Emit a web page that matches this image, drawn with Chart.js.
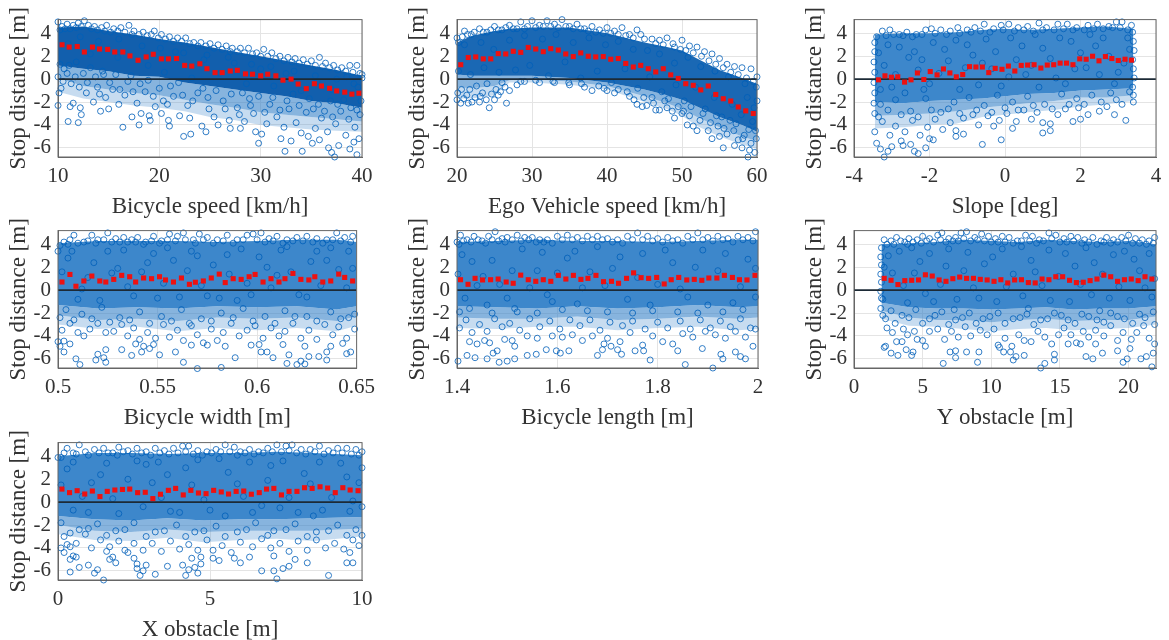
<!DOCTYPE html>
<html>
<head>
<meta charset="utf-8">
<title>Stop distance</title>
<script src="https://cdn.jsdelivr.net/npm/chart.js@4"></script>
<style>
body { margin: 0; background: #fff; overflow: hidden; }
canvas { position: absolute; filter: blur(0.6px); }
</style>
</head>
<body>
<script>
var yTicks = [-6, -4, -2, 0, 2, 4];

// tick labels
var xTicks1 = [10, 20, 30, 40];
var xTicks2 = [20, 30, 40, 50, 60];
var xTicks3 = [-4, -2, 0, 2, 4];
var xTicks4 = [0.5, 0.55, 0.6, 0.65];
var xTicks5 = [1.4, 1.6, 1.8, 2];
var xTicks6 = [0, 5, 10, 15, 20];
var xTicks7 = [0, 5, 10];

// red means
var meanX1 = [10.4,11.1,11.9,12.6,13.4,14.1,14.9,15.6,16.4,17.1,17.9,18.7,19.4,20.2,20.9,21.7,22.5,23.2,24,24.7,25.5,26.2,27,27.7,28.5,29.2,30,30.7,31.5,32.2,33,33.7,34.5,35.3,36,36.8,37.5,38.3,39,39.7];
var meanY1 = [3,2.8,2.85,2.37,2.8,2.63,2.6,2.37,2.37,2.03,1.65,1.94,2.17,1.77,1.77,1.8,1.2,1.14,1.34,.91,.57,.57,.71,.77,.46,.43,.29,.43,.29,-.09,0,-.43,-.83,-.4,-.6,-.8,-1.03,-1.14,-1.31,-1.23];
var meanX2 = [20.5,21.5,22.5,23.5,24.5,25.5,26.5,27.5,28.5,29.5,30.5,31.5,32.5,33.5,34.5,35.5,36.5,37.5,38.5,39.5,40.5,41.5,42.5,43.5,44.5,45.5,46.5,47.5,48.5,49.5,50.5,51.5,52.5,53.5,54.5,55.5,56.5,57.5,58.5,59.5];
var meanY2 = [1.26,1.89,1.94,1.77,1.77,2.23,2.2,2.43,2.34,2.77,2.63,2.4,2.66,2.54,2.2,1.97,2.29,2,1.94,1.97,1.74,1.8,1.37,1.06,1.2,.91,.63,.91,.37,.06,-.4,-.54,-.94,-.6,-1.34,-1.71,-1.91,-2.43,-2.77,-3];
var meanX3 = [-3.35,-3.18,-3.01,-2.84,-2.66,-2.49,-2.32,-2.15,-1.98,-1.8,-1.63,-1.46,-1.29,-1.12,-.94,-.77,-.6,-.43,-.26,-.08,.09,.26,.43,.6,.77,.95,1.12,1.29,1.46,1.63,1.8,1.98,2.15,2.32,2.49,2.66,2.83,3,3.18,3.35];
var meanY3 = [-.06,.29,.17,.2,-.26,-.06,.54,-.03,.66,.37,.89,.54,.2,.4,1.09,1.06,1.06,.57,.94,.86,1.14,.71,1.2,1.23,1.26,.97,1.23,1.26,1.4,1.4,1.26,1.77,1.74,2,1.6,1.97,1.8,1.63,1.74,1.66];
var meanX4 = [.502,.506,.509,.513,.517,.521,.524,.528,.532,.536,.539,.543,.547,.551,.554,.558,.562,.566,.569,.573,.577,.581,.584,.588,.592,.596,.599,.603,.607,.611,.614,.618,.622,.626,.629,.633,.637,.641,.644,.648];
var meanY4 = [.71,1.37,.34,.8,1.23,.8,.71,.94,1.29,1.17,.71,1.06,1,1.17,.89,.71,1.06,.51,.69,.8,1.06,1.4,.66,1,.94,1.17,1.37,.71,1,.71,1,1.46,.94,.89,1.17,.71,.8,1.4,1.11,.8];
var meanX5 = [1.407,1.422,1.436,1.451,1.467,1.482,1.498,1.512,1.527,1.542,1.557,1.572,1.587,1.602,1.617,1.632,1.647,1.661,1.677,1.692,1.708,1.722,1.738,1.752,1.767,1.782,1.798,1.813,1.827,1.842,1.858,1.873,1.888,1.902,1.918,1.933,1.949,1.963,1.978,1.994];
var meanY5 = [.91,.51,1.03,.89,.91,.97,.71,.6,1.31,.91,.77,.91,.77,1.29,.97,1.29,.94,1.03,1.29,.74,.77,.6,1.03,1.51,1.09,1.03,1.11,.54,.91,1.11,.89,.94,.86,1.06,1.06,1.29,1.11,.91,.89,1.29];
var meanX6 = [2.2,2.7,3.2,3.7,4.2,4.7,5.2,5.7,6.2,6.7,7.2,7.7,8.2,8.7,9.2,9.7,10.2,10.7,11.2,11.7,12.2,12.7,13.2,13.7,14.2,14.7,15.2,15.7,16.2,16.7,17.2,17.7,18.2,18.7,19.2,19.7,20.2,20.7,21.2,21.7];
var meanY6 = [1.03,.86,.49,.83,.86,.89,1.34,1.23,.89,.77,1,1.14,1.03,1.03,.94,.89,.77,.91,.63,.89,.91,.66,.63,.97,.91,1.17,1.17,.86,.66,.69,.83,.97,1.31,1.17,.77,.91,.97,.83,1.17,.97];
var meanX7 = [.13,.38,.63,.88,1.13,1.38,1.62,1.87,2.12,2.36,2.62,2.87,3.12,3.37,3.63,3.87,4.12,4.37,4.62,4.87,5.12,5.37,5.61,5.86,6.11,6.36,6.62,6.86,7.1,7.35,7.6,7.86,8.11,8.36,8.62,8.87,9.12,9.37,9.61,9.87];
var meanY7 = [1.14,.83,1,.71,.97,.49,.94,1.06,1.11,1.14,.83,.86,.31,.69,1.03,1.2,.63,1.03,.8,.74,1.03,.89,.71,.94,.97,.69,.83,1.14,1.2,.63,.94,.94,1.26,1.2,1.34,1.23,.83,1.26,1.06,1];

// the thousands of overlapping circles cannot be read one by one, so the overplotted mass
// is drawn as bands: top edge, lower edge of the thick part, thinner part, thinnest part
var bandX1 = [10,12.5,15,17.5,20,22.5,25,27.5,30,32.5,35,37.5,40];
var bandTop1 = [4.5,4.6,4.2,3.9,3.5,3.2,2.8,2.4,2,1.6,1.2,.8,.3];
var bandCore1 = [1.2,.9,.7,.3,.2,-.3,-.6,-.9,-1.2,-1.5,-1.9,-2.1,-2.5];
var bandMid1 = [.1,-.6,-.9,-1.2,-1.4,-1.8,-2.2,-2.5,-2.9,-3.1,-3.3,-3.5,-3.7];
var bandLow1 = [-1.1,-1.7,-2,-2.3,-2.5,-2.8,-3.3,-3.6,-4,-4.2,-4.4,-4.5,-4.6];
var bandX2 = [20,22,25,27,30,35,40,45,48,50,52,55,58,60];
var bandTop2 = [3.2,3.8,4.2,4.4,4.5,4.5,4,3.2,2.8,2.5,1.8,.8,.1,-.4];
var bandCore2 = [.4,.3,.3,.3,.3,.1,-.3,-.9,-1.4,-1.8,-2.4,-3.3,-4,-4.6];
var bandMid2 = [-.7,-.8,-.6,-.1,0,-.2,-.6,-1.5,-2.1,-2.6,-3.3,-4.2,-5,-5.4];
var bandLow2 = [-1.7,-1.7,-1.4,-.3,-.3,-.5,-.9,-2,-2.6,-3.2,-4.1,-5,-5.7,-6.1];
var bandX3 = [-3.45,-2.7,-2,-1.3,-.6,0,.6,1.3,2,2.7,3.4];
var bandTop3 = [3.9,4,4,4.1,4.3,4.4,4.3,4.4,4.5,4.6,4.4];
var bandCore3 = [-2,-2.1,-1.9,-1.8,-1.7,-1.5,-1.3,-1.2,-1,-.9,-.8];
var bandMid3 = [-3.2,-3.1,-3,-2.8,-2.5,-2.3,-2.1,-1.9,-1.6,-1.6,-1.4];
var bandLow3 = [-4.3,-4.2,-4,-3.9,-3.3,-3.1,-2.9,-2.7,-2.4,-2.2,-1.9];
var bandX4 = [.5,.52,.54,.56,.58,.6,.62,.64,.65];
var bandTop4 = [4.1,4.3,4.3,4.3,4.2,4.3,4.4,4.4,4.2];
var bandCore4 = [-1.3,-1.6,-1.5,-1.6,-1.4,-1.5,-1.4,-1.7,-1.4];
var bandMid4 = [-2.2,-2.6,-2.5,-2.7,-2.4,-2.5,-2.4,-2.7,-2.3];
var bandLow4 = [-3,-3.4,-3.2,-3.6,-3.3,-3.5,-3.3,-3.6,-3.1];
var bandX5 = [1.4,1.48,1.56,1.64,1.72,1.8,1.88,1.96,2];
var bandTop5 = [4.2,4.3,4.4,4.3,4.3,4.2,4.3,4.4,4.4];
var bandCore5 = [-1.4,-1.5,-1.6,-1.4,-1.6,-1.5,-1.3,-1.5,-1.4];
var bandMid5 = [-2.4,-2.5,-2.5,-2.3,-2.6,-2.5,-2.3,-2.5,-2.4];
var bandLow5 = [-3.3,-3.4,-3.2,-3.2,-3.5,-3.3,-3.2,-3.5,-3.4];
var bandX6 = [2,4,6,8,10,12,14,16,18,20,22];
var bandTop6 = [4,4.1,4.2,4.4,4.3,4.2,4.4,4.3,4.2,4.3,4];
var bandCore6 = [-1.1,-1.5,-1.6,-1.6,-1.7,-1.6,-1.5,-1.7,-1.6,-1.6,-1.4];
var bandMid6 = [-1.8,-2.4,-2.6,-2.6,-2.8,-2.6,-2.5,-2.7,-2.6,-2.6,-2.3];
var bandLow6 = [-2.5,-3.1,-3.2,-3.4,-3.6,-3.4,-3.3,-3.5,-3.4,-3.3,-3];
var bandX7 = [0,1.2,2.4,3.6,4.8,6,7.2,8.4,10];
var bandTop7 = [4,4.3,4.3,4.2,4.3,4.3,4.4,4.3,4.1];
var bandCore7 = [-1.2,-1.5,-1.6,-1.4,-1.6,-1.5,-1.5,-1.4,-1.3];
var bandMid7 = [-2,-2.5,-2.6,-2.4,-2.6,-2.5,-2.5,-2.5,-2.3];
var bandLow7 = [-2.8,-3.3,-3.4,-3.1,-3.5,-3.3,-3.2,-3.4,-3];

// individual circles, a subset of what is there
var cloud1 = [[10,5],[10.4,4.6],[10.9,4.8],[11.5,4.7],[12,4.9],[12.6,5.1],[13,4.7],[13.6,4.6],[14.3,4.5],[14.8,4.7],[15.5,4.4],[16.2,4.5],[17,4.7],[17.5,4.2],[18.4,4.1],[19.2,3.9],[19.5,4.2],[20.2,3.9],[21,3.7],[21.8,3.6],[22.6,3.6],[23.4,3.2],[24.1,3.2],[25,3.1],[25.8,3],[26.6,2.9],[27.2,2.7],[28,2.7],[28.8,2.7],[29.6,2.3],[30.3,2.6],[31.1,2.3],[31.9,2],[32.7,1.9],[33.4,1.8],[34.2,1.7],[35,1.6],[35.8,1.9],[36.4,1.4],[37.2,1.2],[38,1],[38.8,1.2],[39.5,1.2],[40,.4],
[10.2,4.3],[10.7,4.4],[11.2,4.4],[11.8,4.5],[12.3,4.6],[13.3,4.4],[13.9,4.3],[14.6,4.2],[15.2,4.1],[15.9,4.2],[16.6,4.1],[17.3,3.9],[18,3.9],[18.8,3.8],[19.9,3.6],[20.6,3.5],[21.4,3.3],[22.2,3.3],[23,3.1],[23.8,2.9],[24.6,2.9],[25.4,2.7],[26.2,2.6],[27,2.4],[27.7,2.4],[28.4,2.3],[29.2,2.2],[30,2],[30.7,2],[31.5,1.8],[32.3,1.6],[33.1,1.5],[33.8,1.4],[34.6,1.3],[35.4,1.2],[36.1,1.1],[36.8,1],[37.6,.8],[38.4,.7],[39.1,.6],[39.8,.5],[40,.1],
[10,-2.3],[10.3,-.8],[10.1,-1.2],[11,-3.7],[11.2,-2.4],[11.5,-2.1],[12,-3.8],[12.3,-3.1],[12.2,-2.5],[14.2,-2.8],[15,-2.6],[16,-2.2],[16.4,-4.2],[17.3,-3.3],[18,-4],[18.2,-3],[19,-3.2],[19.1,-3.6],[20.2,-3],[20.8,-2.2],[20.9,-3.6],[21,-4.1],[22,-3.2],[22.4,-5],[23.1,-4.8],[23,-3.4],[24.2,-4.1],[24.6,-4.6],[25.8,-4],[27,-4.3],[28,-4.3],[29.5,-4.6],[29.8,-5.6],[30.1,-4.8],[32,-5.2],[32.4,-6.3],[33,-5.4],[34.1,-6.3],[34.7,-5],[35.1,-5.6],[35.8,-5.3],[36.7,-6],[37,-6.4],[37.3,-6.8],[37.7,-5.8],[38.8,-6.1],[39.5,-6.6],[39.7,-5.2],[39.2,-5.5],
[10.6,.9],[11.3,-.4],[12.8,-1.2],[13.5,-2],[13.9,-.7],[14.7,-1.6],[15.4,-.9],[16.6,-1.4],[17.8,-2.1],[18.6,-1.1],[19.6,-2.4],[21.4,-1.5],[22.8,-2.3],[23.8,-1.2],[24.9,-2.6],[25.4,-3.3],[26.3,-1.9],[26.9,-3.6],[27.7,-2.5],[28.4,-3.7],[28.9,-1.7],[29.3,-3],[30.6,-3.9],[30.9,-2.2],[31.6,-3.3],[32.3,-4.2],[32.8,-2.6],[33.5,-3.8],[34,-4.7],[34.5,-2.9],[35.4,-4.3],[36,-3.4],[36.6,-4.6],[37.4,-3.9],[37.9,-2.8],[38.4,-4.9],[38.7,-3.5],[39.3,-4.2],[39.8,-3.1],[39.9,-1.9],[38.2,-1.8],[36.9,-1.9],[35.2,-2.6],[33.2,-1.3],
[10,.2],[10.2,1.3],[10.5,-.2],[10.9,.5],[11.1,1.2],[11.7,.2],[12.1,-.7],[12.5,.5],[12.9,-.3],[13.2,1],[13.7,.2],[14.1,-1.3],[14.5,.4],[15.1,-.3],[15.7,.4],[16.1,-.9],[16.9,-.2],[17.4,-1.1],[18.1,-.4],[18.9,-.1],[19.4,-1.5],[20,-.8],[20.4,-1.9],[21.1,-.6],[21.9,-.3],[22.3,-1.4],[23.3,-1.9],[24.3,-.8],[24.8,-1.6],[25.6,-1],[26.5,-2.6],[27.1,-1.3],[27.9,-3.1],[28.2,-1.2],[29,-2.3],[29.8,-1.5],[30.4,-2.9],[31.2,-1.6],[31.9,-2.7],[32.6,-1.9],[33.8,-2.3],[34.8,-1.7],[35.7,-2.2],[36.3,-2.8],[37.1,-3.3],[37.6,-2.2],[38.9,-2.5],[39.5,-2.7],
[11,3.1],[11.8,1.5],[13.2,2.2],[14.4,.7],[15.9,1.9],[17.2,.3],[18.9,1.2],[20.5,.6],[21.6,2.4],[23.2,.1],[24.4,1.7],[26,.5],[27.4,1.4],[28.6,-.4],[30,.9],[31.3,-.6],[32.5,.5],[34,-1],[35.6,-.2],[37,-.9],[38.5,.2],[39.6,-.7],[12.2,3.7],[14,3.3],[16,3.5],[18.3,2.9],[20.1,2.7],[22.4,2.3],[24.7,2.1],[26.8,1.9],[29.1,1.3],[31,1.1],[33.3,.7],[35.4,.3],[37.5,0],[39.2,-.4]];

var cloud2 = [[20,3.6],[21,4.2],[21.9,3.9],[23,4.4],[24,4.1],[25,4.6],[26,4.3],[27,4.7],[28,4.4],[28.5,5],[29.4,4.6],[30,5.1],[31,4.7],[32,5.1],[33,4.8],[34,5.2],[35,4.6],[36,4.8],[37,4.4],[38,4.6],[39,4.3],[40,4.5],[41,4.2],[42,4.5],[43,3.9],[44,4.3],[44.5,3.9],[46,3.5],[47,3.4],[48,3.6],[48.8,3.1],[50,3.4],[51,2.9],[52,2.8],[53,2.4],[54,2.2],[55,1.8],[56,1.3],[57,1.1],[58,1],[59.2,.9],[60,.2],
[20.2,3.2],[20.7,3.7],[21.4,3.9],[22.3,4.1],[23.5,4.1],[24.5,4.3],[25.5,4.3],[26.5,4.5],[27.5,4.4],[29,4.4],[30.5,4.5],[31.5,4.6],[32.5,4.6],[33.5,4.5],[34.5,4.6],[35.5,4.4],[36.5,4.4],[37.5,4.2],[38.5,4.1],[39.5,4],[40.5,4],[41.5,3.9],[42.5,3.8],[43.5,3.6],[45,3.5],[46.5,3.1],[47.5,3],[49,2.8],[49.8,2.6],[50.5,2.5],[51.5,2.3],[52.6,2],[53.6,1.6],[54.5,1.3],[55.5,1],[56.5,.6],[57.5,.4],[58.6,.1],[59.5,-.2],[59.9,-.7],
[20,-1.8],[20.5,-2.1],[21.5,-2.1],[22,-2],[23,-2],[24.3,-2.5],[25,-1.8],[26.6,-2.1],[25.5,-1.4],[27,-1],[28,-.5],[29,-.2],[31,-.3],[33,-.3],[35,-.5],[37,-.7],[38,-1],[40,-1],[41,-1.2],[43,-1.5],[44,-2.2],[44.7,-2.4],[45.3,-2.3],[46,-1.6],[46.5,-2.7],[47,-2.7],[48,-2.5],[49,-3.4],[48.7,-2.8],[50,-3],[50.7,-4],[51.5,-4.1],[52,-4.5],[53.5,-4.5],[54,-5.2],[55,-5],[55.5,-6],[57,-5.8],[58,-6],[58.8,-6.8],[59,-6.2],[59.7,-6.4],[57.5,-5.3],[56,-4.8],[54.8,-4.1],[56.4,-3.6],[58.3,-4.9],[59.4,-3.7],[59.9,-5.2],[60,-1.9],
[20.6,-.9],[21.3,-1.4],[22.6,-.6],[23.4,-1.2],[24,-.4],[25.2,-.9],[26,-.3],[20.2,.7],[21.8,.4],[23.6,1],[25.6,.6],[27.8,.8],[29.7,1.2],[32.2,.3],[34.4,1.5],[36.5,.1],[38.7,.7],[40.6,-.3],[42.4,.9],[44.1,-.8],[45.7,.2],[47.3,-1.1],[49.2,-.5],[50.3,-1.9],[51.8,-.7],[53.1,-2.6],[54.3,-1.6],[55.3,-3.3],[56.7,-2.2],[57.9,-3.1],[58.7,-1.6],[59.6,-2.5],
[20.1,-1.2],[20.9,-1.7],[21.7,-.9],[22.4,-1.6],[23.1,-1.5],[23.9,-1.8],[24.6,-1.3],[25.8,-1.1],[26.4,-.7],[28.5,-.2],[30.5,-.1],[32.8,-.2],[34.9,-.3],[36.6,-.4],[38.9,-.6],[39.6,-.8],[41.5,-.9],[42.7,-1.1],[43.6,-1.8],[44.9,-1.6],[46.2,-2.1],[47.7,-1.9],[48.2,-1.7],[49.5,-2.4],[50.2,-2.8],[51,-3.2],[51.2,-2.4],[52.4,-3.6],[52.8,-3],[53.8,-3.8],[54.6,-3.2],[55.6,-4.3],[56.9,-4.5],[57.2,-3.9],[58.1,-5.2],[58.9,-4.4],[59.2,-5.6],[59.8,-4.5],
[21,3],[23.2,3.2],[24.9,2.6],[27,3.4],[29,3.8],[31.4,3.5],[33.2,3.9],[35.5,3.2],[37.6,3.6],[39.8,3],[41.5,3.3],[43.5,2.6],[45.4,2.5],[47,2.2],[49,1.4],[50.8,1.9],[52.5,1.1],[54.4,.7],[56.2,.2],[58.4,-.4]];

var cloud3 = [[-3.4,3.7],[-3.25,4.2],[-3.05,4.3],[-2.8,3.9],[-2.6,4.1],[-2.35,3.9],[-2.1,4.3],[-1.95,4.4],[-1.7,4.3],[-1.45,4.2],[-1.25,4.5],[-1,4.3],[-.8,4.5],[-.55,4.8],[-.3,4.4],[-.1,4.7],[.1,4.8],[.35,4.5],[.6,4.6],[.9,4.9],[1.1,4.5],[1.4,4.8],[1.65,4.8],[1.9,4.5],[2.2,4.7],[2.45,4.8],[2.75,4.6],[2.95,5],[3.1,5],[3.35,4.7],
[-3.45,3.2],[-3.45,2.4],[-3.47,1.5],[-3.45,.6],[-3.47,-.3],[-3.45,-1.2],[-3.47,-2.1],[-3.45,-3],[3.38,4.1],[3.4,3.3],[3.42,2.5],[3.38,1.7],[3.4,.9],[3.42,.1],[3.38,-.7],[3.4,-1.4],
[-3.15,3.8],[-2.95,3.9],[-2.7,3.8],[-2.45,3.7],[-2.2,3.9],[-1.85,4],[-1.55,3.9],[-1.2,4],[-.9,4.1],[-.65,4.2],[-.4,4.1],[-.05,4.3],[.25,4.2],[.5,4.3],[.75,4.2],[1,4.3],[1.3,4.3],[1.55,4.4],[1.8,4.3],[2.1,4.3],[2.35,4.4],[2.6,4.4],[2.85,4.5],[3.05,4.5],[3.25,4.3],
[-3.4,-5.6],[-3.3,-6.1],[-3.2,-6.8],[-3.1,-6.3],[-3,-5.9],[-2.7,-5.8],[-2.75,-5.4],[-2.5,-5.7],[-2.4,-6.3],[-2.3,-6.5],[-2.1,-6],[-2,-5.2],[-1.9,-5.3],[-1.3,-5],[-1.1,-4.8],[-.6,-5.7],[-.1,-5.3],[.2,-4.3],[1,-4.7],[1.2,-3.9],[1.2,-4.5],[2,-3.5],[3.2,-3.6],[3.4,-2],[2.9,-3.1],
[-3.45,-4.6],[-3.25,-3.7],[-3.05,-4.9],[-2.9,-4.1],[-2.65,-4.6],[-2.45,-3.6],[-2.25,-4.9],[-2.05,-4.2],[-1.85,-3.5],[-1.65,-4.4],[-1.45,-3.8],[-1.3,-4.5],[-1.1,-3.4],[-.85,-3.1],[-.7,-4],[-.45,-3.2],[-.3,-4.1],[-.15,-3.6],[.05,-3],[.3,-3.7],[.5,-2.7],[.7,-3.5],[.85,-2.9],[1,-3.8],[1.4,-3.1],[1.6,-2.6],[1.8,-3.7],[1.95,-2.5],[2.2,-3.1],[2.5,-2.8],[2.7,-2.4],[3.1,-2.2],
[-3.3,-2.2],[-2.9,-1.8],[-2.5,-2.8],[-2.1,-1.7],[-1.7,-2.9],[-1.35,-2],[-.95,-1.6],[-.55,-2.3],[-.2,-1.4],[.2,-2],[.6,-1.5],[1.05,-2.2],[1.5,-1.3],[1.9,-1.7],[2.3,-1.4],[2.8,-1.2],[3.3,-1.1],[-3.35,-3.3],[-3.1,-2.7],[-2.75,-3.1],[-2.3,-3.3],[-1.95,-2.7],[-1.5,-2.6],[-1.2,-3],[-.75,-2.7],[-.35,-2.9],[0,-2.5],[.35,-2.7],[.75,-2.3],[1.25,-2.6],[1.7,-2.2],[2.1,-2.2],[2.55,-2],[2.95,-1.8],
[-3.2,1.2],[-2.8,2.8],[-2.3,.8],[-1.9,3.2],[-1.5,1.6],[-1,3],[-.7,-.5],[-.25,2.4],[.15,3.6],[.55,.4],[1,2.7],[1.35,.1],[1.75,3.3],[2.15,1],[2.6,3.6],[3,.6],[3.3,2.6],[-3,-.7],[-2,-.4],[-1.2,-.9],[-3.35,2.3],[-2.55,1.9],[.8,3.9],[2.4,2.9],
[-3.1,3],[-2.9,.4],[-2.65,-1.2],[-2.4,2.4],[-2.15,-.9],[-1.75,.5],[-1.6,2.6],[-1.3,3.4],[-1.05,1],[-.85,2.1],[-.5,3.5],[-.35,.9],[-.1,-.6],[.3,1.7],[.45,2.9],[.7,1.2],[.9,-.7],[1.2,1.8],[1.45,3.6],[1.6,-.4],[2,2.3],[2.25,3.9],[2.5,.4],[2.75,2],[2.9,-.4],[3.15,1.4],[3.25,3.6],[-3.3,-.9],[-2.2,1.7],[-.6,1.4],[.1,.2],[1.85,.9]];

var cloud4 = [[.5,3.4],[.503,4.2],[.506,4.4],[.508,4.8],[.513,4.2],[.517,4.8],[.52,4.4],[.525,5],[.529,4.5],[.533,4.6],[.537,4.4],[.54,4.6],[.544,4.2],[.548,4.7],[.552,4.3],[.556,4.9],[.56,4.7],[.563,5],[.568,4.4],[.571,4.9],[.575,4.6],[.58,4.4],[.585,4.8],[.59,4.4],[.595,4.8],[.598,4.9],[.602,5],[.606,4.5],[.61,4.7],[.615,4.4],[.62,4.6],[.625,4.7],[.63,4.5],[.635,4.4],[.64,5],[.644,4.6],[.648,4.7],
[.501,3.9],[.505,4],[.51,4.1],[.515,4.3],[.519,4.1],[.523,4.4],[.527,4.2],[.531,4.2],[.535,4.2],[.539,4.2],[.543,4],[.547,4.3],[.551,4.1],[.555,4.4],[.559,4.3],[.564,4.4],[.569,4.1],[.573,4.4],[.578,4.1],[.583,4.3],[.588,4.1],[.593,4.4],[.6,4.4],[.604,4.2],[.608,4.3],[.613,4.1],[.618,4.3],[.623,4.3],[.628,4.2],[.633,4.1],[.638,4.4],[.642,4.3],[.647,4.2],
[.501,-4.9],[.5,-4.5],[.503,-4.45],[.503,-5.4],[.506,-4.7],[.509,-6],[.511,-6.5],[.519,-6.1],[.52,-5.6],[.523,-5.9],[.524,-6.3],[.524,-5.2],[.532,-5.2],[.537,-5.7],[.539,-4.7],[.542,-5.4],[.543,-4.9],[.546,-5.1],[.548,-4.75],[.551,-5.65],[.559,-5.4],[.563,-6.3],[.567,-4.8],[.57,-6.85],[.575,-4.8],[.582,-6.75],[.584,-4.9],[.589,-5.9],[.597,-4.8],[.601,-4.75],[.602,-5.4],[.605,-5.4],[.608,-5.9],[.613,-4.75],[.615,-6.4],[.616,-5.65],[.62,-6.5],[.622,-6.2],[.624,-6.45],[.624,-4.9],[.626,-5.8],[.631,-5.8],[.635,-6.1],[.635,-5.4],[.637,-4.9],[.643,-4.65],[.645,-5.55],[.647,-5.4],
[.502,-3.5],[.506,-2.9],[.51,-3.7],[.513,-4],[.516,-3.4],[.52,-2.9],[.524,-3.7],[.528,-3.6],[.532,-3],[.535,-4],[.538,-3.3],[.541,-4.3],[.545,-3.7],[.549,-4.2],[.553,-3],[.556,-4.1],[.56,-3.5],[.563,-4.4],[.566,-2.9],[.57,-3.9],[.573,-4.6],[.577,-3.4],[.58,-4.4],[.583,-3.7],[.587,-2.9],[.591,-4],[.595,-3.5],[.599,-3.1],[.603,-4.2],[.607,-3.3],[.611,-4],[.614,-3.6],[.618,-2.9],[.622,-4.2],[.626,-3.5],[.63,-4.3],[.634,-3],[.638,-3.9],[.641,-3.2],[.645,-4.2],[.649,-3.4],
[.504,-1.7],[.512,-2.1],[.522,-1.5],[.531,-2.4],[.541,-1.9],[.552,-2.3],[.562,-1.7],[.572,-2.5],[.582,-2],[.593,-1.6],[.604,-2.3],[.614,-1.8],[.625,-2.3],[.637,-1.9],[.646,-2.4],[.501,-2.4],[.508,-2.6],[.517,-2.5],[.526,-2.8],[.536,-2.6],[.546,-2.9],[.557,-2.7],[.567,-3.1],[.577,-2.7],[.588,-2.4],[.598,-2.7],[.609,-2.9],[.619,-2.3],[.63,-2.7],[.642,-2.5],[.649,-2.1],
[.505,2.8],[.515,1.1],[.525,3.4],[.535,.3],[.545,2.4],[.555,3.7],[.565,1.7],[.575,-.5],[.585,3.1],[.595,.6],[.605,2],[.615,3.8],[.625,-.6],[.635,2.6],[.645,.2],[.51,-.8],[.53,1.9],[.55,-.7],[.57,3],[.59,-.9],[.61,1.3],[.63,3.4],[.648,1.9],
[.502,1.6],[.507,3.4],[.512,.1],[.518,2.4],[.521,-.9],[.527,1.5],[.533,3.5],[.538,-.5],[.542,1.6],[.548,3.2],[.553,.6],[.558,2.6],[.561,-.6],[.567,3.4],[.572,.4],[.578,2.2],[.581,-.7],[.586,1.4],[.592,3.6],[.597,-.4],[.601,2.9],[.607,.2],[.612,3.5],[.617,1.6],[.621,-.4],[.627,2.5],[.632,.4],[.637,3.7],[.641,1.8],[.646,3.4]];

var cloud5 = [[1.4,4.2],[1.407,4.8],[1.42,4.4],[1.434,4.7],[1.45,4.3],[1.463,4.7],[1.476,5.1],[1.49,4.5],[1.5,4.6],[1.52,4.8],[1.535,4.6],[1.55,4.6],[1.565,4.4],[1.58,4.4],[1.6,4.7],[1.62,4.8],[1.64,4.6],[1.66,4.7],[1.68,4.7],[1.7,4.5],[1.72,4.4],[1.74,4.7],[1.76,5],[1.78,4.7],[1.8,4.5],[1.82,4.6],[1.84,4.4],[1.86,4.7],[1.88,5],[1.9,4.6],[1.92,4.7],[1.94,4.5],[1.96,4.7],[1.98,4.6],[1.995,5.1],
[1.404,4],[1.413,4.3],[1.428,4.2],[1.442,4.4],[1.457,4.1],[1.47,4.4],[1.483,4.3],[1.496,4.2],[1.51,4.4],[1.528,4.3],[1.543,4.4],[1.558,4.2],[1.573,4.2],[1.59,4.1],[1.61,4.4],[1.63,4.4],[1.65,4.3],[1.67,4.4],[1.69,4.4],[1.71,4.2],[1.73,4.1],[1.75,4.4],[1.77,4.4],[1.79,4.3],[1.81,4.2],[1.83,4.3],[1.85,4.1],[1.87,4.4],[1.89,4.4],[1.91,4.3],[1.93,4.4],[1.95,4.2],[1.97,4.4],[1.99,4.3],
[1.402,-6.2],[1.42,-5.7],[1.436,-5.9],[1.46,-6],[1.472,-5.5],[1.484,-6.3],[1.5,-6.2],[1.515,-6],[1.54,-5.7],[1.558,-5.6],[1.578,-5.2],[1.598,-5.3],[1.606,-5.5],[1.623,-5.3],[1.68,-5.7],[1.69,-5.2],[1.693,-4.7],[1.707,-4.9],[1.72,-5.2],[1.728,-5.6],[1.755,-5.3],[1.772,-5.3],[1.785,-6.1],[1.855,-6.5],[1.84,-5.3],[1.889,-5.1],[1.91,-6.8],[1.926,-5.6],[1.93,-6],[1.955,-5.4],[1.965,-5.8],[1.975,-6],[1.99,-4.9],
[1.425,-4.5],[1.44,-4.7],[1.455,-4.4],[1.465,-4.6],[1.48,-5.3],[1.495,-4.3],[1.51,-4.4],[1.515,-4.9],[1.54,-4],[1.56,-4.2],[1.59,-4],[1.61,-4.1],[1.63,-3.9],[1.65,-4.4],[1.67,-4],[1.7,-4.2],[1.725,-4.5],[1.745,-3.7],[1.77,-4.8],[1.79,-4],[1.81,-4.5],[1.83,-4.7],[1.85,-3.8],[1.87,-4.1],[1.895,-3.6],[1.915,-3.9],[1.935,-4.2],[1.955,-3.6],[1.975,-4.1],[1.995,-3.4],
[1.405,-3.3],[1.418,-2.6],[1.43,-3.7],[1.445,-3],[1.46,-3.6],[1.475,-2.5],[1.49,-3.2],[1.505,-2.9],[1.525,-3.5],[1.545,-2.5],[1.565,-3.2],[1.585,-2.7],[1.605,-3.4],[1.625,-2.6],[1.645,-3.1],[1.665,-2.6],[1.685,-3.5],[1.705,-2.8],[1.73,-3.1],[1.75,-2.7],[1.775,-3.4],[1.8,-2.8],[1.82,-3.3],[1.845,-2.7],[1.865,-3.4],[1.885,-2.6],[1.905,-3.3],[1.925,-2.7],[1.945,-3.2],[1.965,-2.5],[1.985,-3.3],
[1.41,3.1],[1.44,.4],[1.47,2.6],[1.5,-.7],[1.53,3.6],[1.56,1.7],[1.59,-1],[1.62,2.8],[1.65,.2],[1.68,3.8],[1.71,1.9],[1.74,-.8],[1.77,3.2],[1.8,.5],[1.83,2.4],[1.86,-.6],[1.89,3.5],[1.92,1.7],[1.95,-1.1],[1.98,2.7],[1.425,-1.6],[1.52,-1.9],[1.61,-1.7],[1.7,-1.9],[1.79,-1.8],[1.88,-2],[1.97,-1.7],
[1.402,1.4],[1.416,-.7],[1.43,2.5],[1.452,1.2],[1.46,-1.3],[1.485,.5],[1.51,1.7],[1.515,-1.6],[1.545,.2],[1.57,3.3],[1.58,-.4],[1.6,1.5],[1.635,3.4],[1.64,-1.2],[1.665,1.6],[1.695,.4],[1.725,2.9],[1.76,1.1],[1.785,-1.3],[1.815,3.5],[1.845,.1],[1.875,2],[1.9,-1.3],[1.935,3.2],[1.965,.3],[1.995,1.9],[1.995,-.6],[1.405,-1.9],[1.47,-2],[1.56,-2],[1.66,-1.8],[1.75,-2],[1.84,-1.9],[1.93,-1.9]];

var cloud6 = [[2.2,4.4],[2.7,4.3],[3.1,4.6],[3.7,4.2],[4,4.5],[4.6,4.4],[5,4.7],[5.5,4.5],[6.1,4.8],[6.4,5],[6.9,4.5],[7.4,4.6],[7.8,5],[8.2,5.1],[8.8,4.6],[9.3,4.9],[9.8,4.7],[10.3,4.5],[10.8,4.7],[11.3,4.6],[11.9,4.3],[12.5,4.8],[13,4.7],[13.5,4.4],[14.2,5],[14.7,4.8],[15.3,4.5],[15.8,4.7],[16.3,4.6],[16.8,4.4],[17.4,4.6],[18,4.3],[18.4,4.6],[18.9,4.4],[19.5,4.6],[20,4.8],[20.5,4.5],[21,4.4],[21.5,4.3],[21.9,4.6],
[2,3.7],[1.95,2.9],[2,2.2],[1.95,1.4],[2,.7],[1.95,-.1],[2,-.7],[1.95,-1.6],[2.1,-2.2],[2.4,4],[2.9,4],[3.4,4.3],[3.9,4],[4.3,4.2],[4.9,4.1],[5.3,4.3],[5.8,4.2],[6.3,4.4],[6.7,4.2],[7.2,4.3],[7.6,4.3],[8,4.5],[8.5,4.3],[9,4.4],[9.5,4.3],[10,4.2],[10.5,4.2],[11,4.2],[11.6,4.1],[12.2,4.3],[12.8,4.3],[13.3,4.1],[13.8,4.3],[14.4,4.5],[15,4.2],[15.5,4.2],[16,4.3],[16.6,4.1],[17.1,4.2],[17.7,4],[18.2,4.2],[18.7,4.1],[19.2,4.2],[19.8,4.3],[20.3,4.1],[20.8,4.1],[21.3,4],[21.8,4.1],
[2.2,-5],[2.3,-4.9],[2.7,-5.5],[3.2,-5.7],[3.8,-5.2],[4.2,-5.7],[4.3,-5.4],[5.2,-4.9],[6.5,-6.4],[7,-5.4],[7.4,-5.3],[7.4,-5.9],[8.2,-5.4],[9,-6.3],[9.1,-5.4],[10.6,-5],[10.9,-5.4],[11.4,-5.4],[11.6,-6.1],[11.8,-5.8],[12.4,-5.7],[13.6,-6.8],[13.9,-6.4],[14.6,-6.1],[14.6,-5.6],[15.6,-4.7],[16.5,-4.7],[16.9,-5.8],[17.4,-6],[17.6,-4.7],[18.1,-5.5],[19.2,-5.3],[19.6,-6.3],[19.9,-6],[20.1,-5.1],[20.9,-6],[21.3,-5.8],[21.7,-6.7],[21.8,-5.5],[21.9,-4.7],
[2.4,-3.3],[2.8,-3.7],[3.1,-4.5],[3.5,-4.5],[3.6,-3.4],[3.9,-3.9],[4.4,-3.6],[4.6,-4.3],[5,-4.4],[5.5,-3.6],[6.1,-3.4],[6.6,-4.3],[7.1,-3.6],[7.6,-4.1],[8.1,-3.2],[8.5,-4],[9.2,-3.5],[9.7,-3.9],[10.2,-3.4],[10.5,-4.8],[11,-4.2],[11.5,-4.9],[12,-3.9],[12.4,-4.4],[12.9,-4.5],[13.4,-3.6],[13.9,-4.1],[14.4,-4.7],[14.9,-3.9],[15.3,-3.3],[15.8,-3.9],[16.2,-4.6],[16.7,-3.6],[17.1,-4.1],[17.6,-3.5],[18.2,-4],[18.7,-3.1],[19.2,-4.4],[19.6,-3.7],[20.2,-4.3],[20.6,-3.7],[21.1,-3.1],[21.5,-4.2],[21.9,-3],
[2.3,-2.5],[3,-2.9],[4,-2.4],[5,-2.9],[5.9,-2.2],[6.9,-3],[7.9,-2.4],[8.9,-2.9],[9.9,-2.3],[11,-2.9],[12.1,-2.4],[13.1,-3],[14.1,-2.5],[15.1,-2.2],[16.1,-2.9],[17.1,-2.3],[18.2,-2.8],[19.2,-2.3],[20.3,-2.9],[21.2,-2.4],[2.7,-1.8],[3.5,-2.2],[4.5,-1.7],[5.5,-2.5],[6.4,-1.9],[7.4,-2.6],[8.4,-2],[9.4,-2.5],[10.5,-2],[11.6,-2.5],[12.6,-2.1],[13.6,-2.6],[14.6,-2],[15.6,-2.6],[16.6,-2.1],[17.7,-2.6],[18.7,-2],[19.7,-2.5],[20.8,-2.1],[21.8,-1.9],
[2.5,3],[3.6,.4],[4.8,2.5],[5.8,-1],[6.9,3.6],[8,1.7],[9.1,-.7],[10.1,2.9],[11.1,.3],[12.2,3.8],[13.2,1.6],[14.3,-.9],[15.4,3.2],[16.5,.5],[17.5,2.4],[18.6,-.7],[19.7,3.4],[20.8,1.7],[21.7,-.6],[2.1,-.8],[2.2,2],[4.2,3.7],[7.3,-1.7],[12.7,-1.6],[17.9,-1.8],
[2.8,1.5],[3.3,3.4],[3.9,-1.1],[4.4,1.5],[5.2,-.3],[5.5,3.2],[6.3,.5],[6.7,2.1],[7.5,-.8],[8.3,3.3],[8.7,.2],[9.5,2.3],[10.4,-1],[10.8,3.6],[11.6,1.4],[12.3,-.5],[12.9,2.6],[13.7,.4],[14.2,3.5],[14.9,1.2],[15.7,-1],[16.1,2.1],[16.9,3.7],[17.3,-.4],[18.1,1.4],[18.9,3.1],[19.3,.3],[20.1,-.9],[20.4,2.7],[21.2,.2],[21.5,3.2],[21.9,1]];

var cloud7 = [[0,3.9],[.3,4.7],[.5,4.3],[.7,5],[.9,4.4],[1.2,4.6],[1.5,4.7],[1.8,4.3],[2,4.8],[2.3,4.5],[2.6,4.7],[2.9,4.4],[3.2,4.7],[3.5,4.5],[3.8,4.7],[4.1,4.9],[4.3,4.9],[4.6,4.5],[4.9,4.4],[5.2,4.6],[5.5,5],[5.8,4.8],[6,4.4],[6.3,4.6],[6.6,4.4],[6.9,4.7],[7.2,5],[7.5,4.9],[7.7,5],[8,4.6],[8.3,4.6],[8.6,4.9],[8.9,4.5],[9.2,4.7],[9.5,4.7],[9.8,4.6],[10,4.4],
[.1,3.9],[.2,4.3],[.6,4.2],[1,4.1],[1.35,4.3],[1.65,4.3],[1.95,4.1],[2.15,4.4],[2.45,4.2],[2.75,4.3],[3.05,4.1],[3.35,4.3],[3.65,4.2],[3.95,4.3],[4.2,4.4],[4.45,4.2],[4.75,4.1],[5.05,4.3],[5.35,4.4],[5.65,4.4],[5.9,4.1],[6.15,4.3],[6.45,4.2],[6.75,4.3],[7.05,4.4],[7.35,4.4],[7.6,4.5],[7.85,4.3],[8.15,4.2],[8.45,4.4],[8.75,4.2],[9.05,4.3],[9.35,4.3],[9.65,4.2],[9.9,4.1],
[.1,-4],[.2,-4.4],[.3,-3.7],[.4,-3.9],[.5,-4.7],[.4,-5],[.4,-6.1],[.6,-4.8],[.7,-5.7],[1,-5.5],[1.2,-6.2],[1.3,-5.9],[1.5,-6.8],[1.6,-4.3],[1.7,-5],[1.8,-4.8],[1.9,-5.3],[2.3,-4.4],[2.5,-4.9],[2.6,-5.4],[2.6,-5.8],[2.7,-6.4],[2.8,-6],[2.9,-5.5],[3.2,-6.3],[3.6,-5.6],[4.1,-5.5],[4.2,-6.4],[4.3,-5.9],[4.4,-4.9],[4.5,-5.7],[4.6,-6.2],[4.7,-4.8],[4.7,-5.4],[5.1,-4.9],[5.3,-5.1],[5.8,-4.9],[6,-5.3],[6.3,-4.8],[6.7,-6],[7.1,-4.7],[7.1,-6],[7.2,-6.7],[7.4,-5.8],[7.6,-5.6],[7.8,-5],[8.2,-5.3],[8.9,-6.4],[9.5,-5.3],[9.7,-5.3],[9.6,-4.4],
[.2,-3],[.6,-3.6],[.9,-2.8],[1.1,-4],[1.4,-3.3],[1.7,-3.9],[2,-3.4],[2.2,-4.2],[2.5,-3.6],[2.8,-4.2],[3.1,-3.6],[3.4,-4.3],[3.7,-3.4],[4,-4.1],[4.3,-3.7],[4.6,-4.2],[4.9,-3.3],[5.1,-4.2],[5.4,-3.8],[5.7,-4.4],[6,-3.5],[6.4,-3.9],[6.7,-3.2],[7,-4],[7.3,-3.6],[7.6,-4.3],[7.9,-3.4],[8.2,-4.2],[8.5,-3.3],[8.8,-4],[9.1,-3.6],[9.4,-4.1],[9.7,-3.3],[9.9,-3.8],[10,-2.9],
[.1,-1.8],[.7,-2.4],[1.3,-1.9],[1.9,-2.5],[2.5,-1.8],[3.2,-2.6],[3.9,-2],[4.5,-2.6],[5.2,-2.1],[5.9,-2.6],[6.5,-1.8],[7.1,-2.5],[7.8,-1.9],[8.5,-2.6],[9.2,-2],[9.8,-2.4],[.4,-2.7],[1,-2.3],[1.6,-2.9],[2.2,-2.4],[2.9,-3],[3.5,-2.5],[4.2,-3],[4.8,-2.5],[5.5,-3],[6.2,-2.4],[6.9,-2.9],[7.5,-2.4],[8.2,-3],[8.9,-2.5],[9.5,-2.9],
[.3,2.9],[.8,.5],[1.4,2.4],[2,-1],[2.6,3.6],[3.1,1.7],[3.7,-.8],[4.2,3],[4.8,.2],[5.3,3.8],[5.9,1.6],[6.4,-.9],[7,3.2],[7.6,.4],[8.1,2.5],[8.7,-.7],[9.3,3.4],[9.9,1.7],[.5,-.7],[4,-.9],[7.3,-.5],[9.6,-.8],
[.1,1.5],[.5,3.5],[1,-.9],[1.1,1.7],[1.6,3.4],[1.8,.3],[2.3,2],[2.8,-.4],[2.9,3.3],[3.4,.4],[3.6,2.4],[4.4,1.5],[4.6,3.7],[5,-.7],[5.6,2.6],[6.1,.5],[6.3,3.5],[6.7,-.3],[6.9,1.9],[7.4,3.6],[7.9,-.9],[8.3,1.6],[8.6,3.5],[9,.4],[9.5,2.2],[9.7,.1],[10,3],[10,-.4],[3.3,3.5],[5.5,-1.2],[8.4,-1.2]];

var charts = [
  { left: 58, top: 16, w: 304, xMin: 10, xMax: 40, ticks: xTicks1, title: 'Bicycle speed [km/h]', meanX: meanX1, meanY: meanY1, bandX: bandX1, bandTop: bandTop1, bandCore: bandCore1, bandMid: bandMid1, bandLow: bandLow1, cloud: cloud1, core: '#125fad' },
  { left: 457, top: 16, w: 300, xMin: 20, xMax: 60, ticks: xTicks2, title: 'Ego Vehicle speed [km/h]', meanX: meanX2, meanY: meanY2, bandX: bandX2, bandTop: bandTop2, bandCore: bandCore2, bandMid: bandMid2, bandLow: bandLow2, cloud: cloud2, core: '#1a68b4' },
  { left: 854, top: 16, w: 302, xMin: -4, xMax: 4, ticks: xTicks3, title: 'Slope [deg]', meanX: meanX3, meanY: meanY3, bandX: bandX3, bandTop: bandTop3, bandCore: bandCore3, bandMid: bandMid3, bandLow: bandLow3, cloud: cloud3, core: '#3d87cb' },
  { left: 58, top: 227, w: 304, xMin: 0.5, xMax: 0.65, ticks: xTicks4, title: 'Bicycle width [m]', meanX: meanX4, meanY: meanY4, bandX: bandX4, bandTop: bandTop4, bandCore: bandCore4, bandMid: bandMid4, bandLow: bandLow4, cloud: cloud4, core: '#3d87cb' },
  { left: 457, top: 227, w: 301, xMin: 1.4, xMax: 2, ticks: xTicks5, title: 'Bicycle length [m]', meanX: meanX5, meanY: meanY5, bandX: bandX5, bandTop: bandTop5, bandCore: bandCore5, bandMid: bandMid5, bandLow: bandLow5, cloud: cloud5, core: '#3d87cb' },
  { left: 854, top: 227, w: 302, xMin: 0, xMax: 22, ticks: xTicks6, title: 'Y obstacle [m]', meanX: meanX6, meanY: meanY6, bandX: bandX6, bandTop: bandTop6, bandCore: bandCore6, bandMid: bandMid6, bandLow: bandLow6, cloud: cloud6, core: '#3d87cb' },
  { left: 58, top: 439, w: 304, xMin: 0, xMax: 10, ticks: xTicks7, title: 'X obstacle [m]', meanX: meanX7, meanY: meanY7, bandX: bandX7, bandTop: bandTop7, bandCore: bandCore7, bandMid: bandMid7, bandLow: bandLow7, cloud: cloud7, core: '#3d87cb' }
];

var serif = 'Liberation Serif';
var textColor = '#333';

function toPoints(xs, ys) {
  var out = [];
  for (var i = 0; i < xs.length; i++) out.push({ x: xs[i], y: ys[i] });
  return out;
}

var boxPlugin = {
  id: 'box',
  afterDatasetsDraw: function(chart) {
    var a = chart.chartArea;
    chart.ctx.save();
    chart.ctx.strokeStyle = '#666';
    chart.ctx.lineWidth = 1;
    chart.ctx.strokeRect(a.left, a.top, a.right - a.left, a.bottom - a.top);
    chart.ctx.restore();
  }
};

function draw(c) {
  var canvas = document.createElement('canvas');
  canvas.width = c.w + 58 + 20;
  canvas.height = 221;
  canvas.style.left = (c.left - 58) + 'px';
  canvas.style.top = (c.top - 16) + 'px';
  document.body.appendChild(canvas);

  new Chart(canvas, {
    type: 'scatter',
    plugins: [boxPlugin],
    data: {
      datasets: [
        { data: toPoints(c.meanX, c.meanY), order: 1, pointStyle: 'rect', pointRadius: 3.6, backgroundColor: '#ee1111', borderWidth: 0, clip: false },
        { data: toPoints([c.xMin, c.xMax], [0, 0]), order: 2, showLine: true, pointRadius: 0, borderColor: '#1c2a36', borderWidth: 1.6 },
        { data: c.cloud.map(function(p) { return { x: p[0], y: p[1] }; }), order: 3, pointRadius: 3, borderWidth: 1, borderColor: 'rgba(0,95,185,0.8)', backgroundColor: 'rgba(0,0,0,0)', clip: false },
        { data: toPoints(c.bandX, c.bandTop), order: 4, showLine: true, pointRadius: 0, borderWidth: 0, fill: '+1', backgroundColor: c.core },
        { data: toPoints(c.bandX, c.bandCore), order: 5, showLine: true, pointRadius: 0, borderWidth: 0, fill: '+1', backgroundColor: 'rgba(55,130,200,0.6)' },
        { data: toPoints(c.bandX, c.bandMid), order: 6, showLine: true, pointRadius: 0, borderWidth: 0, fill: '+1', backgroundColor: 'rgba(70,140,205,0.3)' },
        { data: toPoints(c.bandX, c.bandLow), order: 7, showLine: true, pointRadius: 0, borderWidth: 0 }
      ]
    },
    options: {
      responsive: false,
      animation: false,
      layout: { padding: { top: 16, right: 20, left: 0, bottom: 0 } },
      plugins: { legend: { display: false }, tooltip: { enabled: false } },
      scales: {
        x: {
          type: 'linear',
          min: c.xMin,
          max: c.xMax,
          afterBuildTicks: function(axis) {
            axis.ticks = c.ticks.map(function(v) { return { value: v }; });
          },
          afterFit: function(axis) { axis.height = 64; },
          grid: { color: '#e4e4e4', drawTicks: false },
          border: { color: '#666' },
          ticks: {
            autoSkip: false,
            maxRotation: 0,
            padding: 7,
            color: textColor,
            font: { family: serif, size: 21 },
            callback: function(v) { return String(v); }
          },
          title: { display: true, text: c.title, color: textColor, padding: 0, font: { family: serif, size: 23 } }
        },
        y: {
          min: -6.8,
          max: 5.2,
          afterBuildTicks: function(axis) {
            axis.ticks = yTicks.map(function(v) { return { value: v }; });
          },
          afterFit: function(axis) { axis.width = 58; },
          grid: { color: '#e4e4e4', drawTicks: false },
          border: { color: '#666' },
          ticks: {
            autoSkip: false,
            padding: 7,
            color: textColor,
            font: { family: serif, size: 21 },
            callback: function(v) { return String(v); }
          },
          title: { display: true, text: 'Stop distance [m]', color: textColor, padding: { top: 5, bottom: 0 }, font: { family: serif, size: 23 } }
        }
      }
    }
  });
}

for (var i = 0; i < charts.length; i++) draw(charts[i]);
</script>
</body>
</html>
